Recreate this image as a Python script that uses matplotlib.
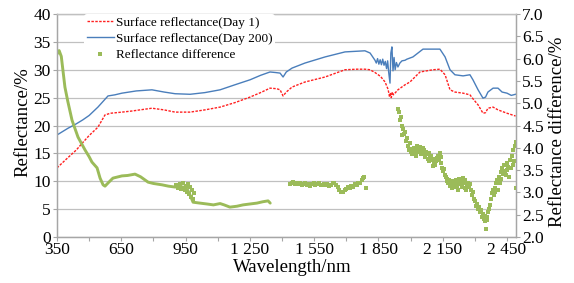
import matplotlib
matplotlib.use("Agg")
import matplotlib.pyplot as plt
from matplotlib.lines import Line2D

plt.rcParams['font.family'] = ['Liberation Serif', 'DejaVu Serif']

# ---------------- data ----------------
wl_day1 = [350, 400, 440, 467, 500, 541, 574, 600, 653, 700, 793, 850, 901, 971, 1040,
           1111, 1180, 1251, 1300, 1344, 1375, 1391, 1405, 1420, 1447, 1507, 1601, 1694,
           1750, 1787, 1811, 1834, 1860, 1881, 1895, 1902, 1906, 1910, 1915, 1920, 1941,
           1974, 1997, 2044, 2105, 2137, 2161, 2184, 2207, 2245, 2277, 2291, 2315, 2338,
           2350, 2361, 2385, 2408, 2450, 2490]
refl_day1 = [12.4, 14.2, 15.6, 16.8, 18.2, 19.7, 21.9, 22.2, 22.4, 22.6, 23.1, 22.8, 22.4, 22.4, 22.8,
             23.3, 24.1, 25.1, 25.9, 26.7, 26.6, 26.4, 25.3, 26.0, 26.9, 27.8, 28.7, 30.0,
             30.1, 30.1, 30.0, 29.5, 28.8, 27.8, 26.5, 25.1, 25.9, 25.0, 26.0, 25.5, 26.4,
             27.3, 27.8, 29.6, 30.0, 30.1, 29.1, 26.4, 26.0, 25.8, 25.5, 24.8, 23.7, 22.2,
             22.3, 23.1, 23.3, 22.8, 22.2, 21.7]

wl_day200 = [350, 401, 440, 470, 500, 541, 588, 620, 653, 720, 793, 850, 901, 971, 1040,
             1111, 1180, 1251, 1300, 1344, 1370, 1391, 1405, 1420, 1447, 1507, 1601, 1694,
             1787, 1811, 1834, 1840, 1846, 1852, 1858, 1864, 1870, 1876, 1882, 1888, 1893,
             1898, 1904, 1908, 1913, 1918, 1923, 1928, 1934, 1941, 1950, 1960, 1974, 1983,
             2011, 2058, 2105, 2137, 2161, 2184, 2207, 2245, 2277, 2291, 2315, 2338, 2350,
             2361, 2385, 2408, 2427, 2450, 2470, 2490]
refl_day200 = [18.3, 19.5, 20.3, 21.0, 21.8, 23.3, 25.3, 25.5, 25.8, 26.2, 26.4, 26.0, 25.7, 25.6, 25.9,
               26.4, 27.3, 28.2, 29.0, 29.6, 29.5, 29.4, 28.7, 29.6, 30.3, 31.2, 32.3, 33.2,
               33.4, 33.0, 31.7, 31.2, 32.0, 31.0, 31.8, 30.9, 31.9, 30.8, 31.5, 30.2, 31.6,
               29.5, 27.6, 33.0, 34.1, 29.8, 32.2, 30.0, 31.3, 30.5, 31.2, 31.6, 31.7, 31.9,
               32.3, 33.7, 33.7, 33.7, 32.3, 30.0, 29.1, 28.9, 29.1, 28.2, 26.4, 24.9, 25.1,
               26.0, 26.7, 26.7, 26.0, 25.8, 25.4, 25.6]

# reflectance difference (right axis), dense VNIR part
wl_diff_a = [350, 360, 370, 387, 400, 420, 448, 481, 500, 513, 537, 551, 565, 574, 590,
             611, 653, 680, 714, 740, 775, 800, 840, 870, 901, 920, 938, 950, 960, 971,
             985, 1017, 1050, 1080, 1111, 1130, 1157, 1190, 1218, 1250, 1283, 1310, 1335, 1345]
diff_a = [6.10, 6.18, 6.05, 5.36, 5.05, 4.62, 4.24, 3.95, 3.80, 3.68, 3.55, 3.32, 3.17, 3.14, 3.22,
          3.32, 3.37, 3.38, 3.41, 3.35, 3.23, 3.20, 3.17, 3.14, 3.12, 3.13, 3.12, 3.10, 3.05, 2.94,
          2.78, 2.76, 2.74, 2.72, 2.75, 2.72, 2.67, 2.69, 2.72, 2.74, 2.76, 2.79, 2.81, 2.76]
# scattered points around 900-1000 nm
wl_diff_s = [905, 915, 925, 930, 940, 945, 950, 955, 960, 965, 970, 975, 980, 985, 990]
diff_s = [3.16, 3.10, 3.18, 3.07, 3.20, 3.05, 3.15, 3.00, 3.18, 2.96, 3.12, 2.90, 3.05, 2.85, 2.98]

# SWIR-1 part
wl_diff_b = [1437, 1445, 1452, 1460, 1468, 1476, 1484, 1492, 1500, 1508, 1516, 1524, 1532, 1540,
             1548, 1556, 1564, 1572, 1580, 1588, 1596, 1604, 1612, 1620, 1628, 1636, 1644, 1652,
             1660, 1668, 1676, 1684, 1692, 1700, 1708, 1716, 1724, 1732, 1740, 1748, 1756, 1764,
             1772, 1778, 1784, 1790]
diff_b = [3.18, 3.21, 3.24, 3.19, 3.22, 3.18, 3.20, 3.16, 3.19, 3.21, 3.17, 3.19, 3.15, 3.18,
          3.20, 3.16, 3.18, 3.21, 3.17, 3.16, 3.19, 3.16, 3.18, 3.15, 3.17, 3.20, 3.21, 3.16,
          3.12, 3.06, 3.02, 3.00, 3.05, 3.08, 3.12, 3.10, 3.15, 3.13, 3.18, 3.16, 3.22, 3.20,
          3.28, 3.33, 3.35, 3.10]

# SWIR-2 part (sparse), (wavelength, difference) pairs
diff_c_pairs = [
    (1941, 4.88), (1946, 4.80), (1950, 4.62), (1955, 4.70), (1958, 4.28), (1962, 4.50),
    (1966, 4.42), (1970, 4.30), (1975, 4.35), (1980, 4.15), (1984, 4.22), (1988, 4.05),
    (1992, 3.95), (1996, 4.10), (2000, 3.90), (2004, 3.98), (2008, 3.85), (2012, 3.92),
    (2016, 4.00), (2020, 3.88), (2024, 3.82), (2028, 3.95), (2032, 4.05), (2036, 3.90),
    (2040, 3.98), (2044, 4.02), (2048, 3.85), (2052, 3.92), (2056, 4.00), (2060, 3.88),
    (2064, 3.95), (2068, 3.80), (2072, 3.90), (2076, 3.85), (2080, 3.75), (2084, 3.88),
    (2088, 3.70), (2092, 3.78), (2096, 3.82), (2100, 3.72), (2104, 3.60), (2108, 3.68),
    (2112, 3.75), (2116, 3.62), (2120, 3.70), (2124, 3.78), (2128, 3.82), (2132, 3.72),
    (2136, 3.88), (2140, 3.80), (2144, 3.65), (2148, 3.55), (2152, 3.48), (2156, 3.52),
    (2160, 3.40), (2164, 3.35), (2168, 3.30), (2172, 3.25), (2176, 3.20), (2180, 3.28),
    (2184, 3.15), (2188, 3.22), (2192, 3.10), (2196, 3.25), (2200, 3.18), (2204, 3.12),
    (2208, 3.20), (2212, 3.28), (2216, 3.15), (2220, 3.05), (2224, 3.22), (2228, 3.30),
    (2232, 3.18), (2236, 3.25), (2240, 3.12), (2244, 3.32), (2248, 3.20), (2252, 3.28),
    (2256, 3.10), (2260, 3.05), (2264, 3.15), (2268, 3.22), (2272, 3.12), (2276, 3.18),
    (2280, 3.05), (2285, 2.95), (2290, 3.00), (2295, 2.85), (2300, 2.80), (2305, 2.70),
    (2310, 2.75), (2315, 2.62), (2320, 2.68), (2325, 2.55), (2330, 2.60), (2334, 2.45),
    (2338, 2.52), (2342, 2.40), (2345, 2.48), (2348, 2.35), (2350, 2.42), (2353, 2.18),
    (2355, 2.38), (2358, 2.45), (2362, 2.55), (2366, 2.62), (2370, 2.72), (2375, 2.85),
    (2380, 2.98), (2384, 3.05), (2388, 2.95), (2392, 3.10), (2396, 3.00), (2400, 3.20),
    (2404, 3.28), (2408, 3.05), (2412, 3.35), (2416, 3.20), (2420, 3.45), (2424, 3.30),
    (2428, 3.55), (2432, 3.42), (2436, 3.62), (2440, 3.48), (2444, 3.38), (2448, 3.65),
    (2452, 3.50), (2456, 3.58), (2460, 3.35), (2464, 3.72), (2468, 3.55), (2472, 3.82),
    (2476, 3.62), (2480, 3.95), (2484, 3.70), (2488, 4.05), (2490, 3.10), (2492, 4.12),
]
wl_diff_c = [p[0] for p in diff_c_pairs]
diff_c = [p[1] for p in diff_c_pairs]

x_ticks = [350, 650, 950, 1250, 1550, 1850, 2150, 2450]
x_ticklabels = ['350', '650', '950', '1 250', '1 550', '1 850', '2 150', '2 450']
y_left_ticks = [0, 5, 10, 15, 20, 25, 30, 35, 40]
y_right_ticks = [2.0, 2.5, 3.0, 3.5, 4.0, 4.5, 5.0, 5.5, 6.0, 6.5, 7.0]

# ---------------- styling ----------------
RED = '#FF2020'
BLUE = '#4A7EBB'
GREEN = '#9BBB59'
GRID = '#C0C0C0'
SPINE = '#A6A6A6'
W, H = 574, 283

fig = plt.figure(figsize=(W / 100, H / 100), dpi=100)
ax = fig.add_axes([57 / W, (H - 237) / H, (516 - 57) / W, (237 - 14) / H])
ax2 = ax.twinx()

ax.plot(wl_day1, refl_day1, color=RED, lw=1.0, ls=(0, (1.8, 1)))
ax.plot(wl_day200, refl_day200, color=BLUE, lw=1.0)

ax2.plot(wl_diff_a, diff_a, color=GREEN, lw=2.1, solid_capstyle='round')
ax2.plot(wl_diff_s, diff_s, ls='none', marker='s', ms=2.2, mew=0, color=GREEN)
ax2.plot(wl_diff_b, diff_b, ls='none', marker='s', ms=2.3, mew=0, color=GREEN)
ax2.plot(wl_diff_c, diff_c, ls='none', marker='s', ms=2.3, mew=0, color=GREEN)

ax.set_xlim(350, 2492)
ax.set_ylim(0, 40)
ax2.set_ylim(2.0, 7.0)

ax.set_xticks(x_ticks)
ax.set_xticklabels(x_ticklabels)
ax.set_xticks([500, 800, 1100, 1400, 1700, 2000, 2300], minor=True)
ax.set_yticks(y_left_ticks)
ax.set_yticklabels([str(v) for v in y_left_ticks])
ax2.set_yticks(y_right_ticks)
ax2.set_yticklabels(['%.1f' % v for v in y_right_ticks])

ax.yaxis.grid(True, color=GRID, lw=0.9)
ax.set_axisbelow(True)

for a in (ax, ax2):
    for s in a.spines.values():
        s.set_color(SPINE)
        s.set_linewidth(0.9)
    a.tick_params(which='both', direction='out', length=3, width=0.8, color=SPINE,
                  labelsize=12.5, pad=1.5)
ax.tick_params(axis='x', pad=0.5)
ax.spines['top'].set_color(GRID)
ax2.spines['top'].set_color(GRID)

fig.text(23 / W, 1 - 122 / H, 'Reflectance/%', rotation=90, ha='center', va='center', fontsize=13.5)
fig.text(558 / W, 1 - 132 / H, 'Reflectance difference/%', rotation=90, ha='center', va='center', fontsize=13.5)
fig.text(292 / W, 1 - 268 / H, 'Wavelength/nm', ha='center', va='center', fontsize=13.5)

handles = [Line2D([], [], color=RED, lw=1.0, ls=(0, (1.8, 1))),
           Line2D([], [], color=BLUE, lw=1.0),
           Line2D([], [], ls='none', marker='s', ms=2.3, mew=0, color=GREEN)]
labels = ['Surface reflectance(Day 1)', 'Surface reflectance(Day 200)', 'Reflectance difference']
leg = ax2.legend(handles, labels, loc='upper left', bbox_to_anchor=(84 / W, 1 - 14 / H),
                 bbox_transform=fig.transFigure, frameon=True, fontsize=9.5,
                 handlelength=2.1, handletextpad=0.1, labelspacing=0.3,
                 borderpad=0.2, borderaxespad=0)
leg.get_frame().set_facecolor('white')
leg.get_frame().set_edgecolor('none')
leg.get_frame().set_alpha(1)

fig.savefig('out.png', dpi=100)
